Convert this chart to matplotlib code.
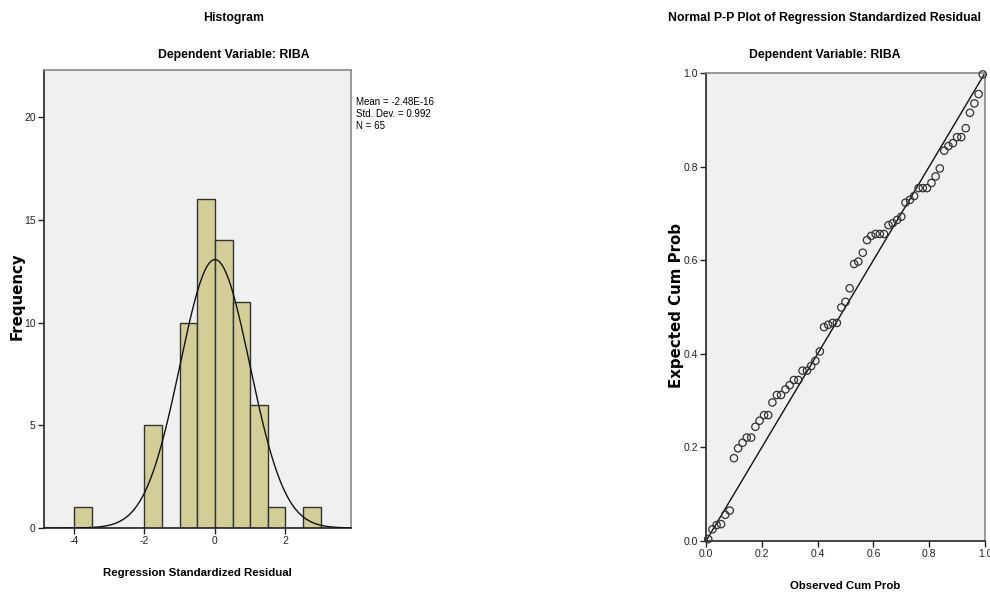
import numpy as np
import matplotlib
matplotlib.use("Agg")
import matplotlib.pyplot as plt

plt.rcParams['font.family'] = ['Liberation Sans', 'DejaVu Sans']

# ---------------- data ----------------
bin_left = [-4.0, -3.5, -3.0, -2.5, -2.0, -1.5, -1.0, -0.5, 0.0, 0.5, 1.0, 1.5, 2.0, 2.5]
bin_count = [1, 0, 0, 0, 5, 0, 10, 16, 14, 11, 6, 1, 0, 1]
bin_width = 0.5
mean_val = -2.48e-16
sd_val = 0.992
n_val = 65
hist_xticks = [-4, -2, 0, 2]
hist_yticks = [0, 5, 10, 15, 20]

obs_cum = [0.008, 0.023, 0.038, 0.054, 0.069, 0.085, 0.100, 0.115, 0.131, 0.146,
           0.162, 0.177, 0.192, 0.208, 0.223, 0.238, 0.254, 0.269, 0.285, 0.300,
           0.315, 0.331, 0.346, 0.362, 0.377, 0.392, 0.408, 0.423, 0.438, 0.454,
           0.469, 0.485, 0.500, 0.515, 0.531, 0.546, 0.562, 0.577, 0.592, 0.608,
           0.623, 0.638, 0.654, 0.669, 0.685, 0.700, 0.715, 0.731, 0.746, 0.762,
           0.777, 0.792, 0.808, 0.823, 0.838, 0.854, 0.869, 0.885, 0.900, 0.915,
           0.931, 0.946, 0.962, 0.977, 0.992]
exp_cum = [0.004, 0.025, 0.034, 0.036, 0.056, 0.065, 0.177, 0.198, 0.210, 0.221,
           0.221, 0.244, 0.257, 0.269, 0.269, 0.296, 0.312, 0.312, 0.324, 0.333,
           0.344, 0.344, 0.364, 0.364, 0.374, 0.385, 0.405, 0.457, 0.462, 0.466,
           0.466, 0.499, 0.511, 0.540, 0.592, 0.597, 0.616, 0.643, 0.652, 0.656,
           0.656, 0.656, 0.675, 0.679, 0.686, 0.693, 0.723, 0.729, 0.737, 0.754,
           0.754, 0.754, 0.765, 0.779, 0.796, 0.834, 0.844, 0.850, 0.863, 0.863,
           0.882, 0.915, 0.935, 0.955, 0.997]
pp_ticks = [0.0, 0.2, 0.4, 0.6, 0.8, 1.0]

# ---------------- figure ----------------
W, H = 990, 595
fig = plt.figure(figsize=(W / 100, H / 100), dpi=100)
fig.patch.set_facecolor('white')

def ax_rect(x0, y0, x1, y1):
    return [x0 / W, 1 - y1 / H, (x1 - x0) / W, (y1 - y0) / H]

def ftext(x, y, s, **kw):
    return fig.text(x / W, 1 - y / H, s, ha='center', va='center', **kw)

bg = '#F0F0F0'
bar_color = '#D3CE97'
edge = '#333333'

def style(ax):
    ax.set_facecolor(bg)
    for s in ['top', 'right']:
        ax.spines[s].set_color('#888888')
        ax.spines[s].set_linewidth(1.2)
    for s in ['left', 'bottom']:
        ax.spines[s].set_color('#222222')
        ax.spines[s].set_linewidth(1.2)
    ax.tick_params(direction='out', length=4, width=1, colors='#222222',
                   labelsize=7.5, pad=2)

title_fs = 8.8
xlabel_fs = 8.2
ylabel_fs = 10.8
ylabel_family = ['DejaVu Sans']

# ---------------- Histogram ----------------
ax1 = fig.add_axes(ax_rect(44, 70, 351, 528))
style(ax1)
ax1.bar(bin_left, bin_count, width=bin_width, align='edge', color=bar_color,
        edgecolor=edge, linewidth=1.0, zorder=2)
xlim1 = (-4.85, 3.86)
ax1.set_xlim(*xlim1)
ax1.set_ylim(0, 22.3)
xs = np.linspace(xlim1[0], xlim1[1], 400)
pdf = n_val * bin_width * np.exp(-0.5 * ((xs - mean_val) / sd_val) ** 2) / (sd_val * np.sqrt(2 * np.pi))
ax1.plot(xs, pdf, color='#111111', linewidth=1.0, zorder=3)
ax1.set_xticks(hist_xticks)
ax1.set_yticks(hist_yticks)
ax1.set_xticklabels([str(t) for t in hist_xticks])
ax1.set_yticklabels([str(t) for t in hist_yticks])
ax1.text(1.015, 0.94, 'Mean = -2.48E-16\nStd. Dev. = 0.992\nN = 65',
         transform=ax1.transAxes, fontsize=7, va='top', ha='left', linespacing=1.25)

ftext(234, 18, 'Histogram', fontsize=title_fs, fontweight='bold')
ftext(234, 55, 'Dependent Variable: RIBA', fontsize=title_fs, fontweight='bold')
ftext(197, 573, 'Regression Standardized Residual', fontsize=xlabel_fs, fontweight='bold')
ftext(17, 296, 'Frequency', fontsize=ylabel_fs, fontweight='bold', rotation=90,
      family=ylabel_family)

# ---------------- P-P plot ----------------
ax2 = fig.add_axes(ax_rect(706, 73, 985, 541))
style(ax2)
ax2.set_xlim(0, 1)
ax2.set_ylim(0, 1)
ax2.plot([0, 1], [0, 1], color='#111111', linewidth=1.0, zorder=2)
ax2.scatter(obs_cum, exp_cum, s=28, facecolors='none', edgecolors='#333333',
            linewidths=0.9, zorder=3, clip_on=False)
ax2.set_xticks(pp_ticks)
ax2.set_yticks(pp_ticks)
ax2.set_xticklabels(['%.1f' % t for t in pp_ticks])
ax2.set_yticklabels(['%.1f' % t for t in pp_ticks])

ftext(825, 18, 'Normal P-P Plot of Regression Standardized Residual',
      fontsize=title_fs, fontweight='bold')
ftext(825, 55, 'Dependent Variable: RIBA', fontsize=title_fs, fontweight='bold')
ftext(845, 586, 'Observed Cum Prob', fontsize=xlabel_fs, fontweight='bold')
ftext(676, 305, 'Expected Cum Prob', fontsize=ylabel_fs, fontweight='bold', rotation=90,
      family=ylabel_family)

fig.savefig('out.png', dpi=100, facecolor='white')
